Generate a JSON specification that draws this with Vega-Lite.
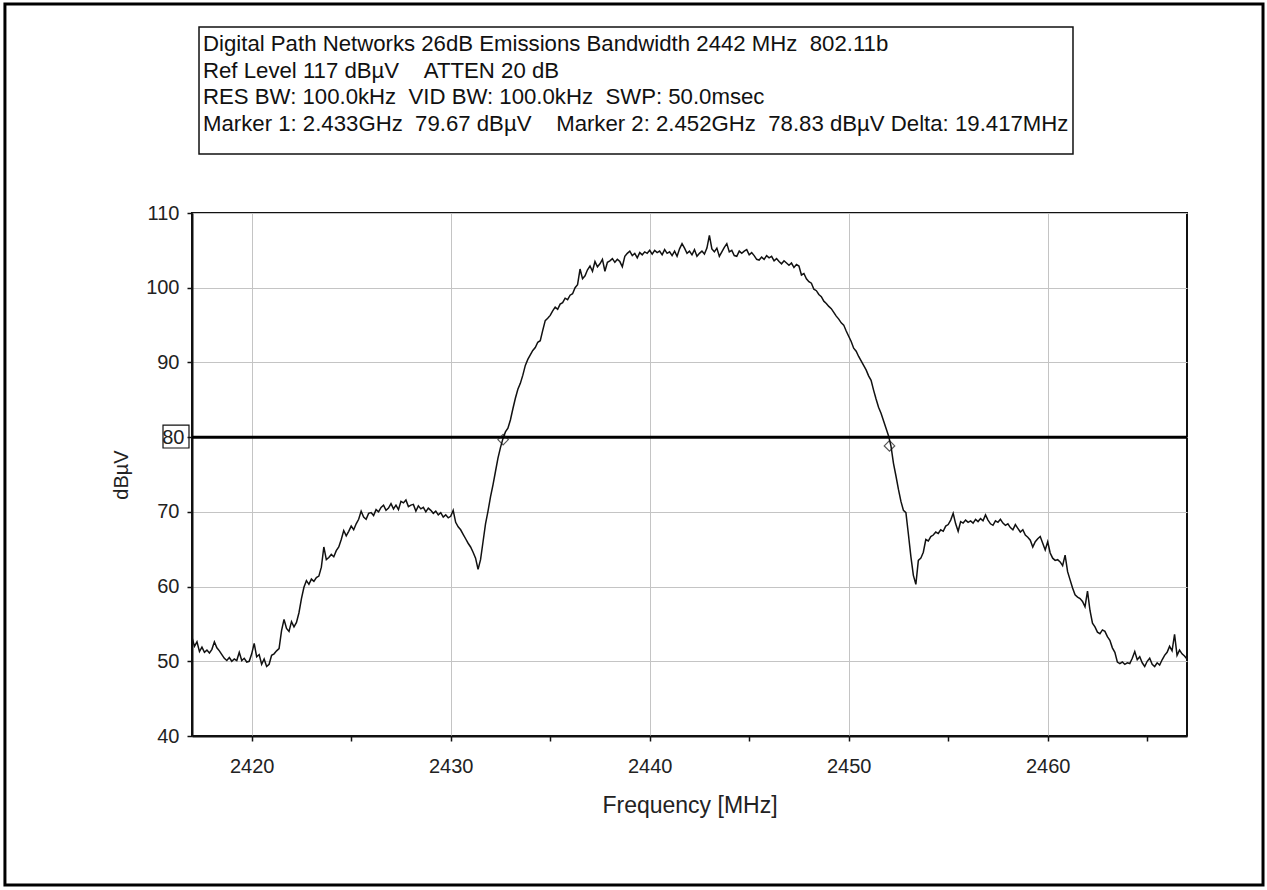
{
  "$schema": "https://vega.github.io/schema/vega-lite/v6.json",
  "width": 995,
  "height": 523,
  "autosize": {"type": "none"},
  "padding": {"left": 192, "top": 213, "right": 80, "bottom": 154},
  "background": "white",
  "config": {
    "view": {"stroke": "#111111", "strokeWidth": 2},
    "font": "Liberation Sans"
  },
  "datasets": {
    "trace": [
      {"f":2417,"v":53.2},{"f":2417.125,"v":52.0},{"f":2417.25,"v":52.6},{"f":2417.375,"v":51.3},{"f":2417.5,"v":51.9},{"f":2417.625,"v":51.2},{"f":2417.75,"v":51.5},{"f":2417.875,"v":51.1},
      {"f":2418,"v":51.6},{"f":2418.125,"v":52.6},{"f":2418.25,"v":51.8},{"f":2418.375,"v":51.4},{"f":2418.5,"v":50.9},{"f":2418.625,"v":50.4},{"f":2418.75,"v":50.1},{"f":2418.875,"v":50.5},
      {"f":2419,"v":50.0},{"f":2419.125,"v":50.3},{"f":2419.25,"v":50.1},{"f":2419.375,"v":51.2},{"f":2419.5,"v":50.1},{"f":2419.625,"v":50.4},{"f":2419.75,"v":49.9},{"f":2419.875,"v":50.0},
      {"f":2420,"v":51.0},{"f":2420.125,"v":52.4},{"f":2420.25,"v":50.6},{"f":2420.375,"v":50.9},{"f":2420.5,"v":49.6},{"f":2420.625,"v":50.3},{"f":2420.75,"v":49.3},{"f":2420.875,"v":49.6},
      {"f":2421,"v":50.8},{"f":2421.125,"v":51.0},{"f":2421.25,"v":51.4},{"f":2421.375,"v":51.7},{"f":2421.5,"v":54.1},{"f":2421.625,"v":55.6},{"f":2421.75,"v":54.4},{"f":2421.875,"v":54.0},
      {"f":2422,"v":55.3},{"f":2422.125,"v":54.6},{"f":2422.25,"v":55.2},{"f":2422.375,"v":56.5},{"f":2422.5,"v":58.4},{"f":2422.625,"v":59.9},{"f":2422.75,"v":60.8},{"f":2422.875,"v":60.3},
      {"f":2423,"v":61.0},{"f":2423.125,"v":60.7},{"f":2423.25,"v":61.2},{"f":2423.375,"v":61.4},{"f":2423.5,"v":62.6},{"f":2423.625,"v":65.3},{"f":2423.75,"v":63.6},{"f":2423.875,"v":63.9},
      {"f":2424,"v":64.3},{"f":2424.125,"v":64.0},{"f":2424.25,"v":64.8},{"f":2424.375,"v":65.3},{"f":2424.5,"v":66.3},{"f":2424.625,"v":67.5},{"f":2424.75,"v":66.8},{"f":2424.875,"v":67.4},
      {"f":2425,"v":68.1},{"f":2425.125,"v":67.6},{"f":2425.25,"v":68.4},{"f":2425.375,"v":69.0},{"f":2425.5,"v":70.1},{"f":2425.625,"v":69.3},{"f":2425.75,"v":69.0},{"f":2425.875,"v":69.8},
      {"f":2426,"v":69.9},{"f":2426.125,"v":69.5},{"f":2426.25,"v":70.3},{"f":2426.375,"v":70.0},{"f":2426.5,"v":70.6},{"f":2426.625,"v":70.9},{"f":2426.75,"v":70.2},{"f":2426.875,"v":70.5},
      {"f":2427,"v":71.1},{"f":2427.125,"v":70.4},{"f":2427.25,"v":70.9},{"f":2427.375,"v":70.3},{"f":2427.5,"v":71.4},{"f":2427.625,"v":71.2},{"f":2427.75,"v":71.6},{"f":2427.875,"v":70.7},
      {"f":2428,"v":70.9},{"f":2428.125,"v":71.0},{"f":2428.25,"v":70.1},{"f":2428.375,"v":70.8},{"f":2428.5,"v":70.4},{"f":2428.625,"v":70.6},{"f":2428.75,"v":70.0},{"f":2428.875,"v":70.5},
      {"f":2429,"v":70.2},{"f":2429.125,"v":69.8},{"f":2429.25,"v":70.1},{"f":2429.375,"v":69.6},{"f":2429.5,"v":69.9},{"f":2429.625,"v":69.3},{"f":2429.75,"v":69.6},{"f":2429.875,"v":69.2},
      {"f":2430,"v":69.4},{"f":2430.125,"v":70.2},{"f":2430.25,"v":68.6},{"f":2430.375,"v":68.0},{"f":2430.5,"v":67.6},{"f":2430.625,"v":67.0},{"f":2430.75,"v":66.4},{"f":2430.875,"v":65.8},
      {"f":2431,"v":65.3},{"f":2431.125,"v":64.6},{"f":2431.25,"v":63.8},{"f":2431.375,"v":62.3},{"f":2431.5,"v":63.6},{"f":2431.625,"v":66.0},{"f":2431.75,"v":68.4},{"f":2431.875,"v":70.1},
      {"f":2432,"v":72.0},{"f":2432.125,"v":73.6},{"f":2432.25,"v":75.4},{"f":2432.375,"v":77.2},{"f":2432.5,"v":78.6},{"f":2432.625,"v":79.8},{"f":2432.75,"v":80.7},{"f":2432.875,"v":81.2},
      {"f":2433,"v":82.3},{"f":2433.125,"v":83.8},{"f":2433.25,"v":85.2},{"f":2433.375,"v":86.4},{"f":2433.5,"v":87.2},{"f":2433.625,"v":88.3},{"f":2433.75,"v":89.6},{"f":2433.875,"v":90.4},
      {"f":2434,"v":91.0},{"f":2434.125,"v":91.6},{"f":2434.25,"v":92.0},{"f":2434.375,"v":92.7},{"f":2434.5,"v":92.9},{"f":2434.625,"v":94.3},{"f":2434.75,"v":95.6},{"f":2434.875,"v":95.9},
      {"f":2435,"v":96.3},{"f":2435.125,"v":96.9},{"f":2435.25,"v":97.4},{"f":2435.375,"v":97.1},{"f":2435.5,"v":97.8},{"f":2435.625,"v":98.0},{"f":2435.75,"v":98.6},{"f":2435.875,"v":98.4},
      {"f":2436,"v":99.0},{"f":2436.125,"v":99.2},{"f":2436.25,"v":100.0},{"f":2436.375,"v":100.4},{"f":2436.5,"v":102.5},{"f":2436.625,"v":101.2},{"f":2436.75,"v":101.6},{"f":2436.875,"v":102.4},
      {"f":2437,"v":102.9},{"f":2437.125,"v":102.2},{"f":2437.25,"v":103.5},{"f":2437.375,"v":102.8},{"f":2437.5,"v":103.2},{"f":2437.625,"v":103.8},{"f":2437.75,"v":102.2},{"f":2437.875,"v":103.4},
      {"f":2438,"v":103.6},{"f":2438.125,"v":103.9},{"f":2438.25,"v":103.4},{"f":2438.375,"v":103.8},{"f":2438.5,"v":103.5},{"f":2438.625,"v":102.8},{"f":2438.75,"v":104.2},{"f":2438.875,"v":104.6},
      {"f":2439,"v":104.9},{"f":2439.125,"v":104.3},{"f":2439.25,"v":104.6},{"f":2439.375,"v":104.0},{"f":2439.5,"v":104.7},{"f":2439.625,"v":104.4},{"f":2439.75,"v":104.8},{"f":2439.875,"v":104.6},
      {"f":2440,"v":105.0},{"f":2440.125,"v":104.5},{"f":2440.25,"v":105.0},{"f":2440.375,"v":104.7},{"f":2440.5,"v":104.9},{"f":2440.625,"v":104.4},{"f":2440.75,"v":105.1},{"f":2440.875,"v":104.6},
      {"f":2441,"v":104.8},{"f":2441.125,"v":104.3},{"f":2441.25,"v":104.9},{"f":2441.375,"v":104.2},{"f":2441.5,"v":105.2},{"f":2441.625,"v":105.9},{"f":2441.75,"v":105.3},{"f":2441.875,"v":104.6},
      {"f":2442,"v":104.9},{"f":2442.125,"v":104.4},{"f":2442.25,"v":105.1},{"f":2442.375,"v":104.2},{"f":2442.5,"v":104.6},{"f":2442.625,"v":104.9},{"f":2442.75,"v":104.5},{"f":2442.875,"v":105.3},
      {"f":2443,"v":107.0},{"f":2443.125,"v":105.2},{"f":2443.25,"v":104.8},{"f":2443.375,"v":105.3},{"f":2443.5,"v":104.2},{"f":2443.625,"v":104.8},{"f":2443.75,"v":105.4},{"f":2443.875,"v":105.9},
      {"f":2444,"v":104.8},{"f":2444.125,"v":105.0},{"f":2444.25,"v":104.3},{"f":2444.375,"v":104.2},{"f":2444.5,"v":104.9},{"f":2444.625,"v":104.6},{"f":2444.75,"v":104.9},{"f":2444.875,"v":105.1},
      {"f":2445,"v":104.4},{"f":2445.125,"v":104.7},{"f":2445.25,"v":104.3},{"f":2445.375,"v":103.8},{"f":2445.5,"v":103.7},{"f":2445.625,"v":104.1},{"f":2445.75,"v":103.8},{"f":2445.875,"v":104.3},
      {"f":2446,"v":104.0},{"f":2446.125,"v":104.2},{"f":2446.25,"v":103.6},{"f":2446.375,"v":103.9},{"f":2446.5,"v":103.5},{"f":2446.625,"v":103.2},{"f":2446.75,"v":103.6},{"f":2446.875,"v":103.3},
      {"f":2447,"v":103.0},{"f":2447.125,"v":103.3},{"f":2447.25,"v":102.7},{"f":2447.375,"v":103.1},{"f":2447.5,"v":102.9},{"f":2447.625,"v":101.7},{"f":2447.75,"v":101.9},{"f":2447.875,"v":101.2},
      {"f":2448,"v":100.8},{"f":2448.125,"v":100.6},{"f":2448.25,"v":99.8},{"f":2448.375,"v":99.6},{"f":2448.5,"v":99.1},{"f":2448.625,"v":98.8},{"f":2448.75,"v":98.2},{"f":2448.875,"v":97.9},
      {"f":2449,"v":97.5},{"f":2449.125,"v":97.2},{"f":2449.25,"v":96.7},{"f":2449.375,"v":96.2},{"f":2449.5,"v":95.8},{"f":2449.625,"v":95.3},{"f":2449.75,"v":95.0},{"f":2449.875,"v":94.2},
      {"f":2450,"v":93.5},{"f":2450.125,"v":92.8},{"f":2450.25,"v":91.9},{"f":2450.375,"v":91.5},{"f":2450.5,"v":90.8},{"f":2450.625,"v":90.2},{"f":2450.75,"v":89.6},{"f":2450.875,"v":89.0},
      {"f":2451,"v":88.2},{"f":2451.125,"v":87.6},{"f":2451.25,"v":86.3},{"f":2451.375,"v":85.1},{"f":2451.5,"v":84.0},{"f":2451.625,"v":83.2},{"f":2451.75,"v":82.2},{"f":2451.875,"v":81.2},
      {"f":2452,"v":80.2},{"f":2452.125,"v":78.8},{"f":2452.25,"v":76.5},{"f":2452.375,"v":74.8},{"f":2452.5,"v":73.0},{"f":2452.625,"v":71.4},{"f":2452.75,"v":70.2},{"f":2452.875,"v":69.9},
      {"f":2453,"v":67.0},{"f":2453.125,"v":64.0},{"f":2453.25,"v":61.5},{"f":2453.375,"v":60.3},{"f":2453.5,"v":63.5},{"f":2453.625,"v":63.8},{"f":2453.75,"v":64.6},{"f":2453.875,"v":66.3},
      {"f":2454,"v":66.1},{"f":2454.125,"v":66.7},{"f":2454.25,"v":66.9},{"f":2454.375,"v":67.3},{"f":2454.5,"v":67.1},{"f":2454.625,"v":67.6},{"f":2454.75,"v":67.4},{"f":2454.875,"v":68.1},
      {"f":2455,"v":68.3},{"f":2455.125,"v":68.9},{"f":2455.25,"v":69.8},{"f":2455.375,"v":68.4},{"f":2455.5,"v":67.4},{"f":2455.625,"v":68.7},{"f":2455.75,"v":68.5},{"f":2455.875,"v":68.9},
      {"f":2456,"v":68.6},{"f":2456.125,"v":68.8},{"f":2456.25,"v":68.5},{"f":2456.375,"v":69.0},{"f":2456.5,"v":68.7},{"f":2456.625,"v":69.1},{"f":2456.75,"v":68.8},{"f":2456.875,"v":69.6},
      {"f":2457,"v":68.9},{"f":2457.125,"v":68.4},{"f":2457.25,"v":68.2},{"f":2457.375,"v":68.8},{"f":2457.5,"v":68.6},{"f":2457.625,"v":69.0},{"f":2457.75,"v":68.5},{"f":2457.875,"v":68.2},
      {"f":2458,"v":68.4},{"f":2458.125,"v":67.9},{"f":2458.25,"v":67.6},{"f":2458.375,"v":68.3},{"f":2458.5,"v":67.8},{"f":2458.625,"v":67.3},{"f":2458.75,"v":67.6},{"f":2458.875,"v":66.9},
      {"f":2459,"v":66.6},{"f":2459.125,"v":66.2},{"f":2459.25,"v":65.3},{"f":2459.375,"v":66.0},{"f":2459.5,"v":66.4},{"f":2459.625,"v":66.7},{"f":2459.75,"v":65.8},{"f":2459.875,"v":64.9},
      {"f":2460,"v":66.0},{"f":2460.125,"v":64.5},{"f":2460.25,"v":63.8},{"f":2460.375,"v":63.5},{"f":2460.5,"v":63.6},{"f":2460.625,"v":63.3},{"f":2460.75,"v":62.8},{"f":2460.875,"v":64.2},
      {"f":2461,"v":62.0},{"f":2461.125,"v":60.9},{"f":2461.25,"v":59.8},{"f":2461.375,"v":58.9},{"f":2461.5,"v":58.6},{"f":2461.625,"v":58.4},{"f":2461.75,"v":58.0},{"f":2461.875,"v":57.3},
      {"f":2462,"v":59.4},{"f":2462.125,"v":56.8},{"f":2462.25,"v":55.1},{"f":2462.375,"v":54.6},{"f":2462.5,"v":53.9},{"f":2462.625,"v":53.7},{"f":2462.75,"v":54.2},{"f":2462.875,"v":54.0},
      {"f":2463,"v":53.3},{"f":2463.125,"v":52.8},{"f":2463.25,"v":51.8},{"f":2463.375,"v":51.2},{"f":2463.5,"v":49.9},{"f":2463.625,"v":49.7},{"f":2463.75,"v":49.9},{"f":2463.875,"v":49.6},
      {"f":2464,"v":49.8},{"f":2464.125,"v":49.7},{"f":2464.25,"v":50.4},{"f":2464.375,"v":51.3},{"f":2464.5,"v":50.2},{"f":2464.625,"v":50.6},{"f":2464.75,"v":49.8},{"f":2464.875,"v":49.3},
      {"f":2465,"v":50.0},{"f":2465.125,"v":50.4},{"f":2465.25,"v":49.6},{"f":2465.375,"v":49.3},{"f":2465.5,"v":49.8},{"f":2465.625,"v":49.5},{"f":2465.75,"v":50.2},{"f":2465.875,"v":50.8},
      {"f":2466,"v":51.2},{"f":2466.125,"v":52.0},{"f":2466.25,"v":51.4},{"f":2466.375,"v":53.6},{"f":2466.5,"v":50.8},{"f":2466.625,"v":51.5},{"f":2466.75,"v":51.0},{"f":2466.875,"v":50.7},
      {"f":2467,"v":50.3}
    ],
    "markers": [
      {"marker": "Marker 1", "f": 2432.633, "v": 79.67},
      {"marker": "Marker 2", "f": 2452.05, "v": 78.83}
    ],
    "reference": [
      {"level": 80}
    ],
    "header": [
      {"text": "Digital Path Networks 26dB Emissions Bandwidth 2442 MHz \u00a0802.11b\nRef Level 117 dBµV \u00a0\u00a0\u00a0ATTEN 20 dB\nRES BW: 100.0kHz \u00a0VID BW: 100.0kHz \u00a0SWP: 50.0msec\nMarker 1: 2.433GHz \u00a079.67 dBµV \u00a0\u00a0\u00a0Marker 2: 2.452GHz \u00a078.83 dBµV Delta: 19.417MHz"}
    ]
  },
  "layer": [
    {
      "data": {"name": "trace"},
      "mark": {"type": "line", "color": "#111111", "strokeWidth": 1.5},
      "encoding": {
        "x": {
          "field": "f", "type": "quantitative",
          "scale": {"domain": [2417, 2467], "nice": false, "zero": false},
          "axis": {
            "title": "Frequency [MHz]",
            "values": [2420, 2425, 2430, 2435, 2440, 2445, 2450, 2455, 2460, 2465],
            "format": "d",
            "labelExpr": "datum.value % 10 === 0 ? datum.label : ''",
            "grid": true,
            "gridColor": {"condition": {"test": "datum.value % 10 !== 0", "value": "transparent"}, "value": "#c4c4c4"},
            "gridWidth": 1,
            "tickSize": 5, "tickColor": "#111111", "tickWidth": 1.5,
            "domainColor": "#111111", "domainWidth": 2,
            "labelFontSize": 20, "labelColor": "#222222", "labelPadding": 15, "labelFont": "Liberation Sans",
            "titleFontSize": 23, "titleFontWeight": "normal", "titleColor": "#222222", "titlePadding": 18, "titleFont": "Liberation Sans"
          }
        },
        "y": {
          "field": "v", "type": "quantitative",
          "scale": {"domain": [40, 110], "nice": false, "zero": false},
          "axis": {
            "title": "dBµV",
            "values": [40, 45, 50, 55, 60, 65, 70, 75, 80, 85, 90, 95, 100, 105, 110],
            "labelExpr": "datum.value % 10 === 0 ? datum.label : ''",
            "grid": true,
            "gridColor": {"condition": {"test": "datum.value % 10 !== 0", "value": "transparent"}, "value": "#c4c4c4"},
            "gridWidth": 1,
            "tickSize": 5, "tickColor": "#111111", "tickWidth": 1.5,
            "domainColor": "#111111", "domainWidth": 2,
            "labelFontSize": 20, "labelColor": "#222222",
            "labelPadding": {"condition": {"test": "datum.value === 80", "value": 3}, "value": 8},
            "labelFont": "Liberation Sans",
            "titleFontSize": 20, "titleFontWeight": "normal", "titleColor": "#222222", "titlePadding": 14, "titleFont": "Liberation Sans"
          }
        }
      }
    },
    {
      "data": {"name": "reference"},
      "mark": {"type": "rule", "color": "#000000", "strokeWidth": 3},
      "encoding": {"y": {"field": "level", "type": "quantitative"}}
    },
    {
      "data": {"name": "markers"},
      "mark": {"type": "point", "shape": "diamond", "filled": false, "size": 110, "color": "#111111", "strokeWidth": 1.2},
      "encoding": {
        "x": {"field": "f", "type": "quantitative"},
        "y": {"field": "v", "type": "quantitative"}
      }
    },
    {
      "data": {"name": "header"},
      "mark": {"type": "rect", "fill": "white", "stroke": "#111111", "strokeWidth": 1.5},
      "encoding": {
        "x": {"datum": 2417.352}, "x2": {"datum": 2461.271},
        "y": {"datum": 134.9}, "y2": {"datum": 117.9}
      }
    },
    {
      "data": {"name": "header"},
      "mark": {"type": "text", "align": "left", "baseline": "alphabetic", "lineBreak": "\n", "lineHeight": 26.7, "fontSize": 22.2, "font": "Liberation Sans", "color": "#111111"},
      "encoding": {
        "x": {"datum": 2417.553},
        "y": {"datum": 131.68},
        "text": {"field": "text"}
      }
    },
    {
      "data": {"name": "header"},
      "mark": {"type": "rect", "fill": "transparent", "stroke": "#111111", "strokeWidth": 1.2},
      "encoding": {
        "x": {"datum": 2415.543}, "x2": {"datum": 2416.849},
        "y": {"datum": 81.62}, "y2": {"datum": 78.55}
      }
    },
    {
      "data": {"name": "header"},
      "mark": {"type": "rect", "fill": "transparent", "stroke": "#000000", "strokeWidth": 3},
      "encoding": {
        "x": {"datum": 2407.6}, "x2": {"datum": 2470.82},
        "y": {"datum": 137.97}, "y2": {"datum": 20.06}
      }
    }
  ]
}
